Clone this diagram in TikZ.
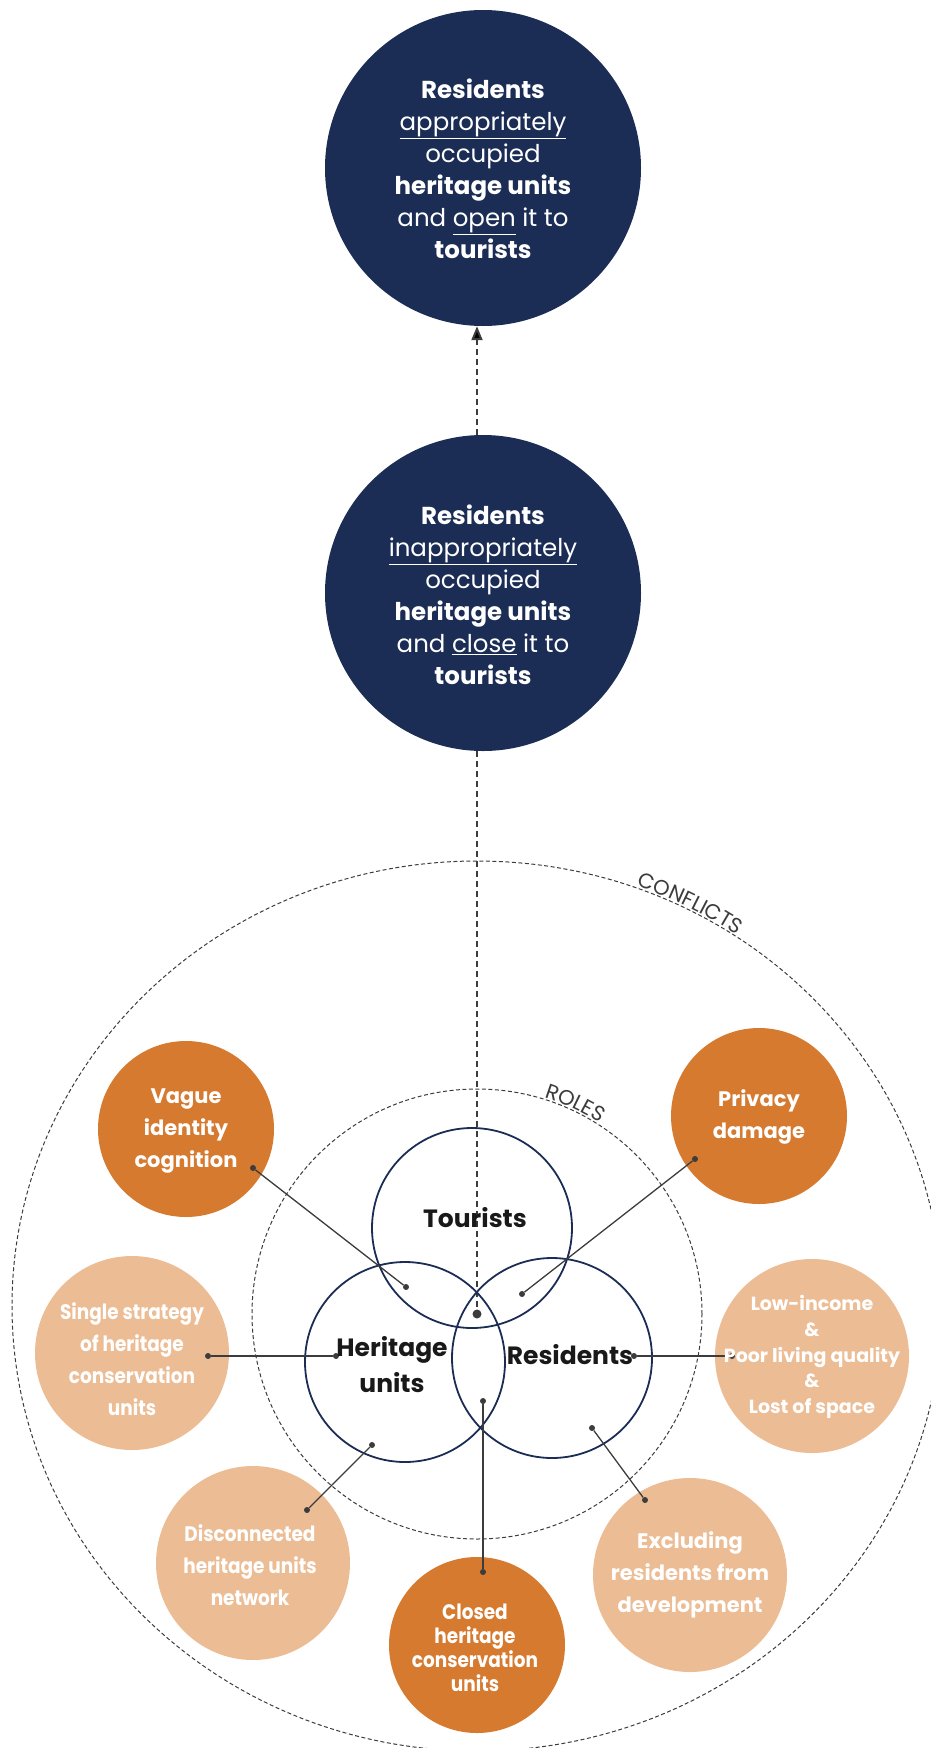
\documentclass[tikz,border=0pt]{standalone}
\usepackage{fontspec}
\setmainfont{Poppins}
\newfontfamily\condfont{Poppins}[FakeStretch=0.88]
\usetikzlibrary{arrows.meta,decorations.text,calc}
\definecolor{navy}{HTML}{1B2D55}
\definecolor{darkor}{HTML}{D67A30}
\definecolor{lightor}{HTML}{ECBD95}
\definecolor{lineg}{HTML}{3C3C3C}
\tikzset{
 bigcirc/.style={circle,fill=navy,inner sep=0pt,minimum size=316pt},
 darkcirc/.style={circle,fill=darkor,inner sep=0pt,minimum size=176pt},
 lightcirc/.style={circle,fill=lightor,inner sep=0pt,minimum size=194pt},
 venn/.style={circle,draw=navy,line width=1.8pt,inner sep=0pt,minimum size=200pt},
 ringline/.style={draw=lineg,line width=1pt,dash pattern=on 4pt off 2.5pt},
 dashconn/.style={draw=lineg,line width=2pt,dash pattern=on 6pt off 4pt},
 conn/.style={draw=lineg,line width=1.3pt},
 dotn/.style={circle,fill=lineg,inner sep=0pt,minimum size=6pt},
 bigtext/.style={text=white,align=center,font=\fontsize{24.5}{32}\selectfont},
 octext/.style={text=white,align=center,font=\bfseries\fontsize{21}{31.7}\selectfont},
 condtext/.style={text=white,align=center,font=\condfont\bfseries\fontsize{21}{32}\selectfont},
 vennlabel/.style={text=black!90,align=center,font=\bfseries\fontsize{25}{36}\selectfont},
}
\begin{document}
\begin{tikzpicture}[x=1pt,y=1pt]
\useasboundingbox (0,0) rectangle (931,-1748);
% top circles
\node[bigcirc] (top) at (483,-168) {};
\node[bigtext] (toptext) at (483,-169) {\textbf{Residents}\\\underline{appropriately}\\occupied\\\textbf{heritage units}\\and \underline{open} it to\\\textbf{tourists}};
\node[bigcirc] (mid) at (483,-593) {};
\node[bigtext] (midtext) at (483,-595) {\textbf{Residents}\\\underline{inappropriately}\\occupied\\\textbf{heritage units}\\and \underline{close} it to\\\textbf{tourists}};
% centre
\coordinate (ec) at (477,-1306);
\node[circle,fill=lineg,inner sep=0pt,minimum size=9pt] (cdot) at (477,-1314) {};
% rings
\draw[ringline] (ec) ellipse [x radius=465pt, y radius=445pt];
\draw[ringline] (cdot.center) circle [radius=225pt];
\path[decorate,decoration={text along path,text={|\fontsize{21}{21}\selectfont|CONFLICTS},text align=center,text color=lineg}]
  (ec) ++(80:467pt and 447pt) arc[start angle=80,end angle=46,x radius=467pt,y radius=447pt];
\path[decorate,decoration={text along path,text={|\fontsize{21}{21}\selectfont|ROLES},text align=center,text color=lineg}]
  (cdot.center) ++(82:227pt) arc[start angle=82,end angle=48,radius=227pt];
% dashed connectors
\draw[dashconn,-{Triangle[length=14pt,width=11pt]}] (mid.north -| cdot) -- (top.south -| cdot);
\draw[dashconn] (mid.south -| cdot) -- (cdot);
% outer circles
\node[darkcirc] (vague) at (186,-1129) {};
\node[darkcirc] (priv) at (759,-1116) {};
\node[darkcirc] (closed) at (477,-1645) {};
\node[lightcirc] (single) at (132,-1353) {};
\node[lightcirc] (low) at (812,-1356) {};
\node[lightcirc] (disc) at (253,-1563) {};
\node[lightcirc] (excl) at (690,-1575) {};
% venn
\node[venn] (vt) at (472,-1228) {};
\node[venn] (vh) at (405,-1362) {};
\node[venn] (vr) at (552,-1358) {};
% dots
\node[dotn] (dv1) at (253,-1168) {};
\node[dotn] (dv2) at (406,-1287) {};
\node[dotn] (dp1) at (695,-1159) {};
\node[dotn] (dp2) at (522,-1294) {};
\node[dotn] (ds1) at (208,-1356) {};
\node[dotn] (ds2) at (336,-1356) {};
\node[dotn] (dl1) at (732,-1356) {};
\node[dotn] (dl2) at (634,-1356) {};
\node[dotn] (dc1) at (483,-1572) {};
\node[dotn] (dc2) at (483,-1401) {};
\node[dotn] (dd1) at (307,-1510) {};
\node[dotn] (dd2) at (372,-1445) {};
\node[dotn] (de1) at (645,-1500) {};
\node[dotn] (de2) at (592,-1428) {};
\draw[conn] (dv1) -- (dv2);
\draw[conn] (dp1) -- (dp2);
\draw[conn] (ds1) -- (ds2);
\draw[conn] (dl1) -- (dl2);
\draw[conn] (dc1) -- (dc2);
\draw[conn] (dd1) -- (dd2);
\draw[conn] (de1) -- (de2);
% labels
\node[vennlabel] (lt) at (475,-1218) {Tourists};
\node[vennlabel] (lh) at (392,-1365) {Heritage\\units};
\node[vennlabel] (lr) at (570,-1355) {Residents};
\node[octext] (tvague) at (186,-1131) {Vague\\identity\\cognition};
\node[octext] (tpriv) at (759,-1117) {Privacy\\damage};
\node[condtext] (tsingle) at (132,-1359) {Single strategy\\of heritage\\conservation\\units};
\node[text=white,align=center,font=\bfseries\fontsize{19}{25.6}\selectfont] (tlow) at (812,-1357) {Low-income\\\&\\Poor living quality\\\&\\Lost of space};
\node[condtext] (tdisc) at (250,-1565) {Disconnected\\heritage units\\network};
\node[condtext,font=\condfont\bfseries\fontsize{21}{24}\selectfont] (tclosed) at (475,-1648) {Closed\\heritage\\conservation\\units};
\node[octext] (texcl) at (690,-1575) {Excluding\\residents from\\development};
\end{tikzpicture}
\end{document}
